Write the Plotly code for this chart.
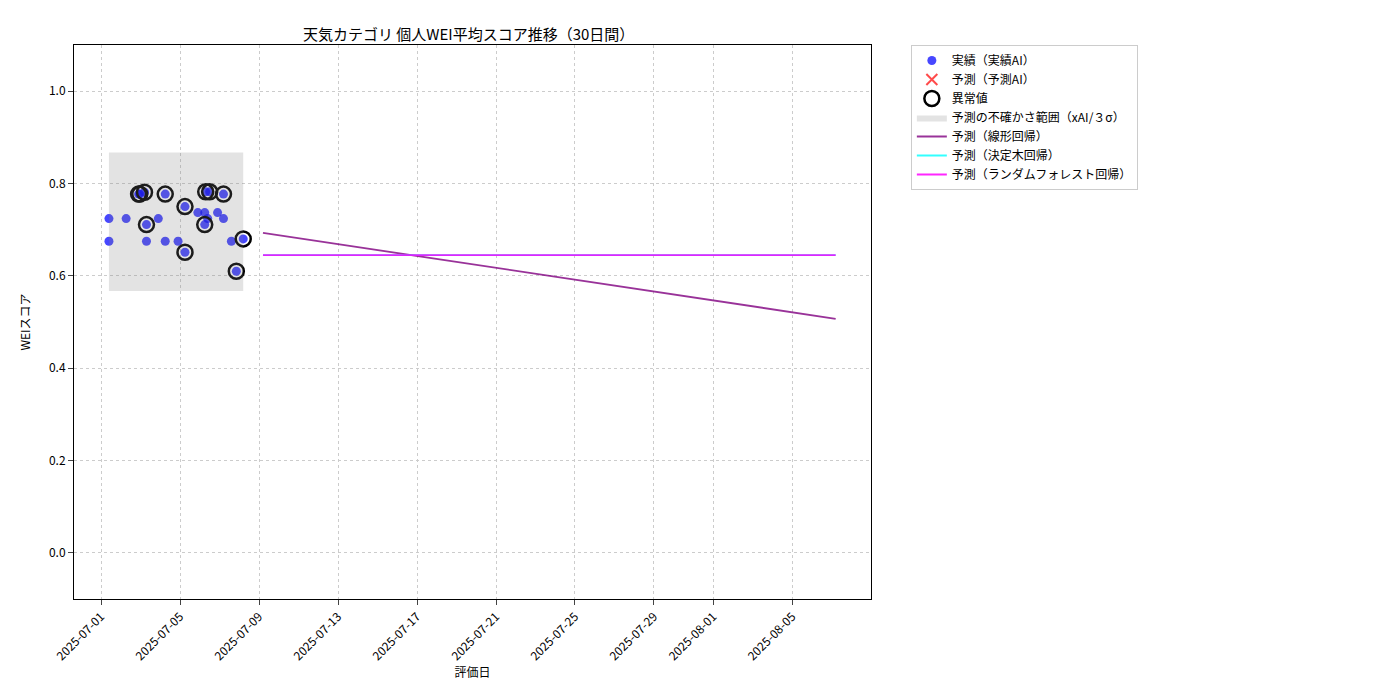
import plotly.graph_objects as go
import pandas as pd

base = pd.Timestamp("2025-07-01")
day_offsets = [0.4, 0.4, 1.96, 2.2, 1.27, 1.9, 2.3, 2.3, 2.9, 3.25, 3.25, 3.9, 4.25, 4.25,
               4.9, 5.25, 5.25, 5.4, 5.3, 5.5, 5.9, 6.2, 6.2, 6.6, 6.85, 7.2]
scores = [0.724, 0.675, 0.777, 0.781, 0.724, 0.777, 0.711, 0.675, 0.724, 0.777, 0.675, 0.675, 0.75, 0.651,
          0.737, 0.737, 0.711, 0.724, 0.782, 0.782, 0.737, 0.777, 0.724, 0.675, 0.61, 0.68]
outlier_idx = [2, 3, 5, 6, 9, 12, 13, 16, 18, 19, 21, 24, 25]
band_low, band_high = 0.567, 0.867
pred_days = [8.2, 37.2]
linear_pred = [0.693, 0.507]
tree_pred = [0.645, 0.645]
forest_pred = [0.645, 0.645]
tick_labels = ["2025-07-01", "2025-07-05", "2025-07-09", "2025-07-13", "2025-07-17", "2025-07-21",
               "2025-07-25", "2025-07-29", "2025-08-01", "2025-08-05", "2025-08-09"]

dates = [base + pd.Timedelta(days=d) for d in day_offsets]
pdates = [base + pd.Timedelta(days=d) for d in pred_days]
x0, x1 = min(dates), max(dates)

fig = go.Figure()
fig.add_trace(go.Scatter(x=dates, y=scores, mode="markers", name="実績（実績AI）",
                         marker=dict(color="rgba(0,0,255,0.72)", size=9)))
fig.add_trace(go.Scatter(x=[None], y=[None], mode="markers", name="予測（予測AI）",
                         marker=dict(color="rgba(255,0,0,0.7)", symbol="x-thin", size=11,
                                     line=dict(color="rgba(255,0,0,0.7)", width=2))))
fig.add_trace(go.Scatter(x=[dates[i] for i in outlier_idx], y=[scores[i] for i in outlier_idx],
                         mode="markers", name="異常値",
                         marker=dict(color="rgba(0,0,0,0)", size=15, line=dict(color="black", width=2.5))))
fig.add_trace(go.Scatter(x=[x0, x1, x1, x0, x0], y=[band_low, band_low, band_high, band_high, band_low],
                         fill="toself", fillcolor="rgba(128,128,128,0.22)", line=dict(width=0),
                         mode="lines", name="予測の不確かさ範囲（xAI/３σ）"))
fig.add_trace(go.Scatter(x=pdates, y=linear_pred, mode="lines", name="予測（線形回帰）",
                         line=dict(color="purple", width=1.8), opacity=0.8))
fig.add_trace(go.Scatter(x=pdates, y=tree_pred, mode="lines", name="予測（決定木回帰）",
                         line=dict(color="cyan", width=1.8), opacity=0.8))
fig.add_trace(go.Scatter(x=pdates, y=forest_pred, mode="lines", name="予測（ランダムフォレスト回帰）",
                         line=dict(color="magenta", width=1.8), opacity=0.85))

fig.update_layout(
    width=1400, height=700, plot_bgcolor="white", paper_bgcolor="white",
    font=dict(family="Noto Sans CJK JP", size=12, color="black"),
    margin=dict(l=66, r=537, t=37, b=109),
    title=dict(text="天気カテゴリ 個人WEI平均スコア推移（30日間）", x=0.329, xanchor="center",
               y=0.97, font=dict(size=15)),
    legend=dict(x=1.05, y=1.0, xanchor="left", yanchor="top", bordercolor="#ccc", borderwidth=1,
                font=dict(size=12), tracegroupgap=0),
    xaxis=dict(title=dict(text="評価日", standoff=2, font=dict(size=12)), automargin=False,
               range=[base - pd.Timedelta(days=1.37), base + pd.Timedelta(days=38.99)],
               tickvals=[pd.Timestamp(t) for t in tick_labels], ticktext=tick_labels, tickangle=-45,
               showgrid=True, gridcolor="#ccc", griddash="dot", showline=True, linecolor="black",
               mirror=True, ticks="outside", zeroline=False, tickfont=dict(size=12)),
    yaxis=dict(title=dict(text="WEIスコア", font=dict(size=12)), automargin=False, range=[-0.1, 1.1],
               tickvals=[0, 0.2, 0.4, 0.6, 0.8, 1.0],
               tickformat=".1f", showgrid=True, gridcolor="#ccc", griddash="dot", showline=True,
               linecolor="black", mirror=True, ticks="outside", zeroline=False, tickfont=dict(size=12)),
)
fig.write_html("out.html")
